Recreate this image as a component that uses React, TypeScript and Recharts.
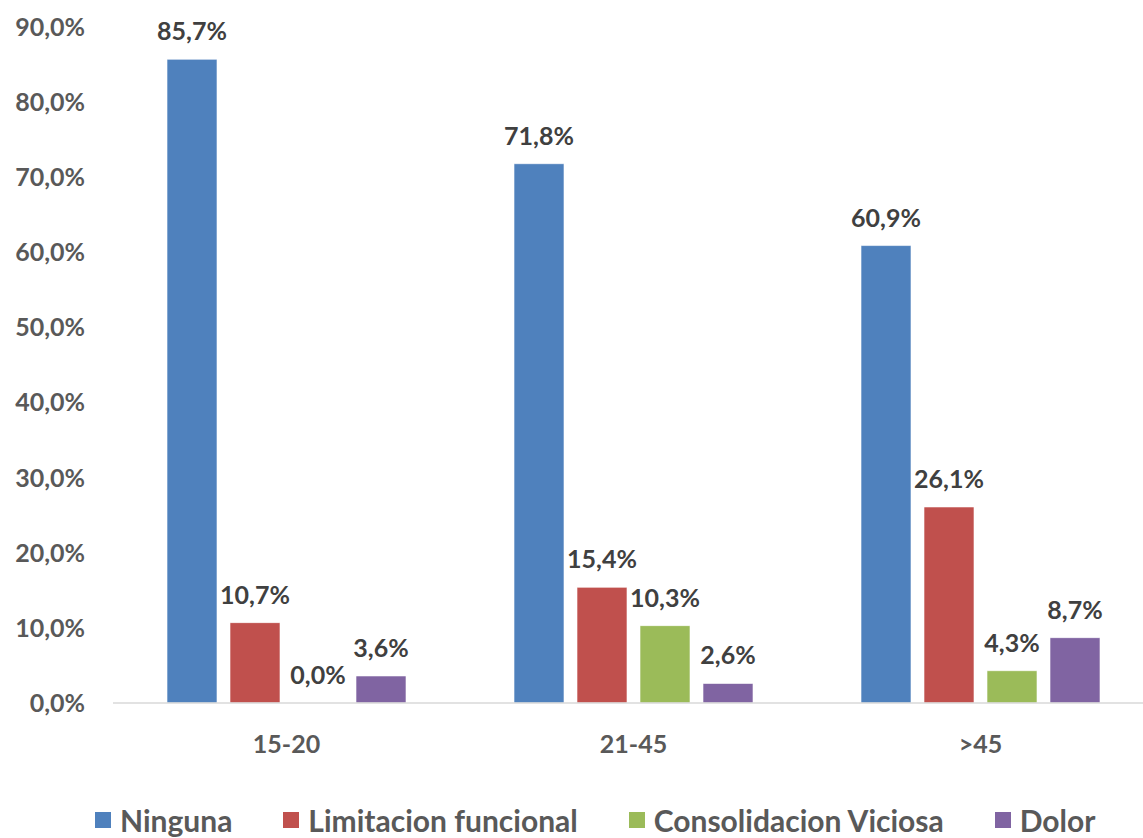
import { Bar, BarChart, LabelList, Legend, XAxis, YAxis } from 'recharts'

const groups = ['15-20', '21-45', '>45']
const ninguna = [85.7, 71.8, 60.9]
const limitacion = [10.7, 15.4, 26.1]
const consolidacion = [0.0, 10.3, 4.3]
const dolor = [3.6, 2.6, 8.7]
const yTicks = [0, 10, 20, 30, 40, 50, 60, 70, 80, 90]

const series = [
  { key: 'ninguna', name: 'Ninguna', color: '#4F81BD' },
  { key: 'limitacion', name: 'Limitacion funcional', color: '#C0504D' },
  { key: 'consolidacion', name: 'Consolidacion Viciosa', color: '#9BBB59' },
  { key: 'dolor', name: 'Dolor', color: '#8064A2' },
]

const data = groups.map((group, i) => ({
  group,
  ninguna: ninguna[i],
  limitacion: limitacion[i],
  consolidacion: consolidacion[i],
  dolor: dolor[i],
}))

const FONT = 'Lato, "Open Sans", sans-serif'

function pct(value: number | string): string {
  return Number(value).toFixed(1).replace('.', ',') + '%'
}

function ChartLegend() {
  return (
    <div
      style={{
        display: 'flex',
        alignItems: 'center',
        height: 30,
        paddingLeft: 95,
        whiteSpace: 'nowrap',
      }}
    >
      {series.map((s) => (
        <div
          key={s.key}
          style={{ display: 'flex', alignItems: 'center', marginRight: 51, flexShrink: 0 }}
        >
          <span style={{ width: 16, height: 16, background: s.color, marginRight: 9 }} />
          <span style={{ fontFamily: FONT, fontWeight: 700, fontSize: 30, color: '#595959' }}>
            {s.name}
          </span>
        </div>
      ))}
    </div>
  )
}

export default function App() {
  return (
    <div
      style={{
        position: 'absolute',
        left: 0,
        top: 0,
        width: 1143,
        height: 838,
        overflow: 'hidden',
        background: '#fff',
      }}
    >
      <BarChart
        width={1160}
        height={838}
        data={data}
        margin={{ top: 27, right: 6, bottom: 75, left: 0 }}
        barSize={50}
        barGap={13}
      >
        <XAxis
          dataKey="group"
          height={30}
          axisLine={{ stroke: '#D9D9D9', strokeWidth: 1.5 }}
          tickLine={false}
          tickSize={0}
          tickMargin={32}
          tick={{ fontFamily: FONT, fontWeight: 700, fontSize: 25, fill: '#595959' }}
        />
        <YAxis
          width={113}
          domain={[0, 90]}
          ticks={yTicks}
          interval={0}
          axisLine={false}
          tickLine={false}
          tickSize={0}
          tickMargin={28}
          tickFormatter={pct}
          tick={{ fontFamily: FONT, fontWeight: 700, fontSize: 25, fill: '#595959' }}
        />
        <Legend
          verticalAlign="bottom"
          content={<ChartLegend />}
          wrapperStyle={{ top: 805, left: 0, width: 1143, height: 30 }}
        />
        {series.map((s) => (
          <Bar
            key={s.key}
            dataKey={s.key}
            name={s.name}
            fill={s.color}
            stroke="#ffffff"
            strokeOpacity={0.6}
            minPointSize={0.01}
            isAnimationActive={false}
          >
            <LabelList
              dataKey={s.key}
              position="top"
              offset={19}
              formatter={pct}
              style={{ fontFamily: FONT, fontWeight: 700, fontSize: 25, fill: '#404040' }}
            />
          </Bar>
        ))}
      </BarChart>
    </div>
  )
}
